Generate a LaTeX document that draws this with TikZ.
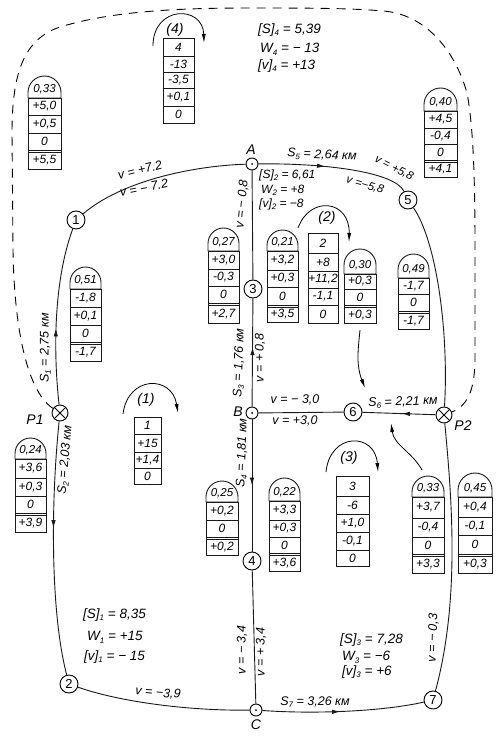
\documentclass[tikz,border=0pt]{standalone}
\usepackage{fontspec}
\setmainfont{Liberation Sans}
\usetikzlibrary{arrows.meta,decorations.markings}
\newcommand{\sbs}[1]{\raisebox{-0.35ex}[0pt][0pt]{\footnotesize #1}}
\tikzset{
  netline/.style={line width=0.9pt,black!90},
  boxline/.style={line width=0.9pt,black!90},
  cellt/.style={font=\itshape\fontsize{12}{13}\selectfont,inner sep=0pt},
  headt/.style={font=\itshape\fontsize{11.5}{12}\selectfont,inner sep=0pt},
  lab/.style={font=\itshape\fontsize{12.5}{13}\selectfont,inner sep=0pt},
  smlab/.style={font=\itshape\fontsize{11.5}{12}\selectfont,inner sep=0pt},
  sumlab/.style={font=\itshape\fontsize{13.5}{14}\selectfont,inner sep=0pt,anchor=west},
  ptlab/.style={font=\fontsize{14}{15}\selectfont\itshape,inner sep=0pt},
  nnode/.style={draw,circle,fill=white,line width=0.9pt,minimum size=18pt,inner sep=0pt,font=\fontsize{13}{13}\selectfont},
  jnode/.style={draw,circle,fill=white,line width=0.9pt,minimum size=12pt,inner sep=0pt},
  pnode/.style={draw,circle,fill=white,line width=0.9pt,minimum size=16pt,inner sep=0pt},
  flow/.style={netline,postaction={decorate},decoration={markings,mark=at position #1 with {\arrow{Latex[length=8pt,width=4.5pt]}}}},
  loopar/.style={line width=0.8pt,-{Latex[length=9pt,width=4pt]}},
  dashline/.style={line width=0.9pt,dash pattern=on 9pt off 7pt}
}
% \archtbl{name}{x1}{x2}{top}{base}{double-line y}{bottom}{header}{row list y1/y2/text}
\newcommand{\archtbl}[9]{
  \pgfmathsetmacro{\xm}{(#2+#3)/2}
  \pgfmathsetmacro{\rr}{(#3-#2)/2}
  \draw[boxline] (#2,#5) -- (#2,#4+\rr) .. controls (#2,#4+0.45*\rr) and (\xm-0.55*\rr,#4) .. (\xm,#4)
     .. controls (\xm+0.55*\rr,#4) and (#3,#4+0.45*\rr) .. (#3,#4+\rr) -- (#3,#5) -- cycle;
  \node[headt] (#1h) at (\xm,#5-9) {#8};
  \draw[boxline] (#2,#5) rectangle (#3,#7);
  \draw[boxline] (#2,#6) -- (#3,#6) (#2,#6+2) -- (#3,#6+2);
  \foreach \ya/\yb/\tx [count=\i] in {#9}{
    \draw[boxline] (#2,\yb) -- (#3,\yb);
    \node[cellt] (#1r\i) at (\xm,{(\ya+\yb)/2}) {\tx};
  }
  \node[cellt] (#1r) at (\xm,{(#6+2+#7)/2}) {\lasttx};
}
% \plaintbl{name}{x1}{x2}{list of y1/y2/text}
\newcommand{\plaintbl}[4]{
  \foreach \ya/\yb/\tx [count=\i] in {#4}{
    \draw[boxline] (#2,\ya) rectangle (#3,\yb);
    \pgfmathsetmacro{\xm}{(#2+#3)/2}
    \node[cellt] (#1r\i) at (\xm,{(\ya+\yb)/2}) {\tx};
  }
}
\begin{document}
\begin{tikzpicture}[x=1pt,y=-1pt]
\useasboundingbox (0,0) rectangle (503,743);

% ---- network nodes
\node[jnode] (A) at (252,164) {};
\node[jnode] (B) at (252,413) {};
\node[jnode] (C) at (256,710) {};
\node[nnode] (n1) at (76,220) {1};
\node[nnode] (n2) at (69,684) {2};
\node[nnode] (n3) at (253,289) {3};
\node[nnode] (n4) at (252,561) {4};
\node[nnode] (n5) at (408,200) {5};
\node[nnode] (n6) at (353,412) {6};
\node[nnode] (n7) at (433,700) {7};
\node[pnode] (P1) at (60,413) {};
\node[pnode] (P2) at (444,415) {};
\fill (A) circle (1pt);
\fill (B) circle (1pt);
\fill (C) circle (1pt);
\draw[line width=0.8pt] (P1.45) -- (P1.225) (P1.135) -- (P1.315);
\draw[line width=0.8pt] (P2.45) -- (P2.225) (P2.135) -- (P2.315);

% ---- network edges
\draw[netline] (n1) .. controls (120,182) and (190,166) .. (A);
\draw[flow=0.44] (A) .. controls (325,163) and (395,172) .. (n5);
\draw[netline] (n5) .. controls (436,240) and (449,330) .. (P2);
\draw[netline] (P2) .. controls (452,500) and (460,600) .. (n7);
\draw[netline] (A) -- (n3);
\draw[flow=0.55] (B) -- (n3);
\draw[flow=0.5] (B) -- (n4);
\draw[netline] (n4) -- (C);
\draw[flow=0.43] (P1) .. controls (53,350) and (54,280) .. (n1);
\draw[flow=0.42] (P1) .. controls (51,500) and (50,610) .. (n2);
\draw[netline] (n2) .. controls (120,702) and (190,711) .. (C);
\draw[flow=0.48] (C) .. controls (310,714) and (380,712) .. (n7);
\draw[netline] (B) -- (n6);
\draw[flow=0.46] (P2) -- (n6);

% ---- dashed closing line
\coordinate (d1) at (13,250);
\coordinate (d2) at (12,133);
\coordinate (d3) at (67,25);
\coordinate (d4) at (250,8);
\coordinate (d5) at (383,11);
\coordinate (d6) at (467,93);
\coordinate (d7) at (475,250);
\coordinate (d8) at (475,357);
\draw[dashline] (P1) .. controls (25,390) and (14,320) .. (d1) -- (d2)
  .. controls (12,70) and (25,35) .. (d3) .. controls (120,10) and (190,8) .. (d4)
  .. controls (300,8) and (350,8) .. (d5) .. controls (425,14) and (455,50) .. (d6)
  .. controls (474,130) and (475,190) .. (d7) -- (d8) .. controls (475,385) and (470,405) .. (P2);

% ---- loop arrows
\coordinate (l4a) at (153,46); \coordinate (l4b) at (204,43);
\coordinate (l2a) at (298,228); \coordinate (l2b) at (349,242);
\coordinate (l1a) at (123,414); \coordinate (l1b) at (178,413);
\coordinate (l3a) at (326,472); \coordinate (l3b) at (378,472);
\draw[loopar] (l4a) .. controls (153,5) and (203,5) .. (l4b);
\draw[loopar] (l2a) .. controls (310,195) and (350,200) .. (l2b);
\draw[loopar] (l1a) .. controls (128,375) and (172,375) .. (l1b);
\draw[loopar] (l3a) .. controls (330,432) and (375,432) .. (l3b);
\coordinate (m1a) at (360,330); \coordinate (m1b) at (365,388);
\coordinate (m2a) at (422,470); \coordinate (m2b) at (391,423);
\draw[loopar] (m1a) .. controls (358,350) and (356,365) .. (m1b);
\draw[loopar] (m2a) .. controls (412,452) and (394,445) .. (m2b);

% ---- arched tables
\def\lasttx{+5,5}
\archtbl{ta}{28}{61}{76}{98}{150}{169}{0,33}{98/115/{+5,0},115/133/{+0,5},133/150/0}
\def\lasttx{+4,1}
\archtbl{tb}{424}{457}{88}{111}{160}{177}{0,40}{111/128/{+4,5},128/144/{-0,4},144/160/0}
\def\lasttx{+2,7}
\archtbl{tc}{208}{239}{228}{251}{303}{323}{0,27}{251/269/{+3,0},269/286/{-0,3},286/303/0}
\def\lasttx{+3,5}
\archtbl{td}{267}{298}{230}{251}{305}{322}{0,21}{251/270/{+3,2},270/287/{+0,3},287/305/0}
\def\lasttx{+0,3}
\archtbl{te}{344}{376}{249}{274}{305}{323}{0,30}{274/289/{+0,3},289/305/0}
\def\lasttx{-1,7}
\archtbl{tf}{398}{429}{254}{278}{311}{329}{0,49}{278/294/{-1,7},294/311/0}
\def\lasttx{-1,7}
\archtbl{tg}{70}{101}{267}{289}{342}{361}{0,51}{289/307/{-1,8},307/325/{+0,1},325/342/0}
\def\lasttx{+3,9}
\archtbl{th}{15}{46}{438}{459}{513}{532}{0,24}{459/478/{+3,6},478/496/{+0,3},496/513/0}
\def\lasttx{+0,2}
\archtbl{ti}{206}{238}{481}{502}{537}{555}{0,25}{502/520/{+0,2},520/537/0}
\def\lasttx{+3,6}
\archtbl{tj}{269}{300}{478}{501}{553}{571}{0,22}{501/520/{+3,3},520/537/{+0,3},537/553/0}
\def\lasttx{+3,3}
\archtbl{tk}{412}{444}{476}{497}{554}{573}{0,33}{497/518/{+3,7},518/537/{-0,4},537/554/0}
\def\lasttx{+0,3}
\archtbl{tl}{458}{492}{473}{497}{554}{573}{0,45}{497/517/{+0,4},517/535/{-0,1},535/554/0}

% ---- plain tables
\plaintbl{pa}{163}{194}{38/56/4,56/72/{-13},72/88/{-3,5},88/106/{+0,1},106/123/0}
\plaintbl{pb}{308}{338}{233/253/2,253/271/{+8},271/288/{+11,2},288/305/{-1,1},305/323/0}
\plaintbl{pc}{134}{161}{417/434/1,434/452/{+15},452/468/{+1,4},468/484/0}
\plaintbl{pd}{336}{369}{476/496/3,496/514/{-6},514/532/{+1,0},532/550/{-0,1},550/566/0}

% ---- loop labels
\node[ptlab] (q4) at (175,30) {(4)};
\node[ptlab] (q2) at (327,218) {(2)};
\node[ptlab] (q1) at (146,400) {(1)};
\node[ptlab] (q3) at (349,458) {(3)};

% ---- point labels
\node[ptlab] (la) at (251,150) {A};
\node[ptlab] (lb) at (238,412) {B};
\node[ptlab] (lc) at (256,725) {C};
\node[ptlab] (lp1) at (35,420) {P1};
\node[ptlab] (lp2) at (463,426) {P2};

% ---- edge labels
\node[lab,rotate=14] (e1) at (140,170) {v = +7.2};
\node[lab,rotate=11] (e2) at (144,188) {v = − 7.2};
\node[lab,rotate=85] (e3) at (242,204) {v = − 0,8};
\node[lab,rotate=-3] (e4) at (322,155) {S\sbs{5} = 2,64 км};
\node[smlab,rotate=-27] (e5) at (394,168) {v = +5,8};
\node[smlab,rotate=-17] (e6) at (365,185) {v =−5,8};
\node[lab,rotate=90] (e7) at (45,348) {S\sbs{1} = 2,75 км};
\node[lab,rotate=85] (e8) at (65,460) {S\sbs{2} = 2,03 км};
\node[lab,rotate=88] (e9) at (239,363) {S\sbs{3} = 1,76 км};
\node[lab,rotate=90] (e10) at (260,358) {v = + 0,8};
\node[lab,rotate=88] (e11) at (242,453) {S\sbs{4} = 1,81 км};
\node[lab,rotate=1] (e12) at (295,400) {v = − 3,0};
\node[lab] (e13) at (295,421) {v = +3,0};
\node[lab,rotate=2] (e14) at (403,402) {S\sbs{6} = 2,21 км};
\node[lab,rotate=90] (e15) at (242,650) {v = − 3,4};
\node[lab,rotate=90] (e16) at (261,652) {v = + 3,4};
\node[lab,rotate=-5] (e17) at (158,693) {v = −3,9};
\node[lab] (e18) at (315,702) {S\sbs{7} = 3,26 км};
\node[lab,rotate=88] (e19) at (433,638) {v = − 0,3};

% ---- loop sums
\node[sumlab] (s41) at (258,30) {[S]\sbs{4} = 5,39};
\node[sumlab] (s42) at (260,48) {W\sbs{4} = − 13};
\node[sumlab] (s43) at (258,66) {[v]\sbs{4} = +13};
\node[sumlab,font=\itshape\fontsize{12}{13}\selectfont] (s21) at (259,175) {[S]\sbs{2} = 6,61};
\node[sumlab,font=\itshape\fontsize{12}{13}\selectfont] (s22) at (261,189) {W\sbs{2} = +8};
\node[sumlab,font=\itshape\fontsize{12}{13}\selectfont] (s23) at (259,204) {[v]\sbs{2} = −8};
\node[sumlab] (s11) at (83,615) {[S]\sbs{1} = 8,35};
\node[sumlab] (s12) at (87,636) {W\sbs{1} = +15};
\node[sumlab] (s13) at (84,657) {[v]\sbs{1} = − 15};
\node[sumlab] (s31) at (340,640) {[S]\sbs{3} = 7,28};
\node[sumlab] (s32) at (342,656) {W\sbs{3} = −6};
\node[sumlab] (s33) at (342,672) {[v]\sbs{3} = +6};
\end{tikzpicture}
\end{document}
